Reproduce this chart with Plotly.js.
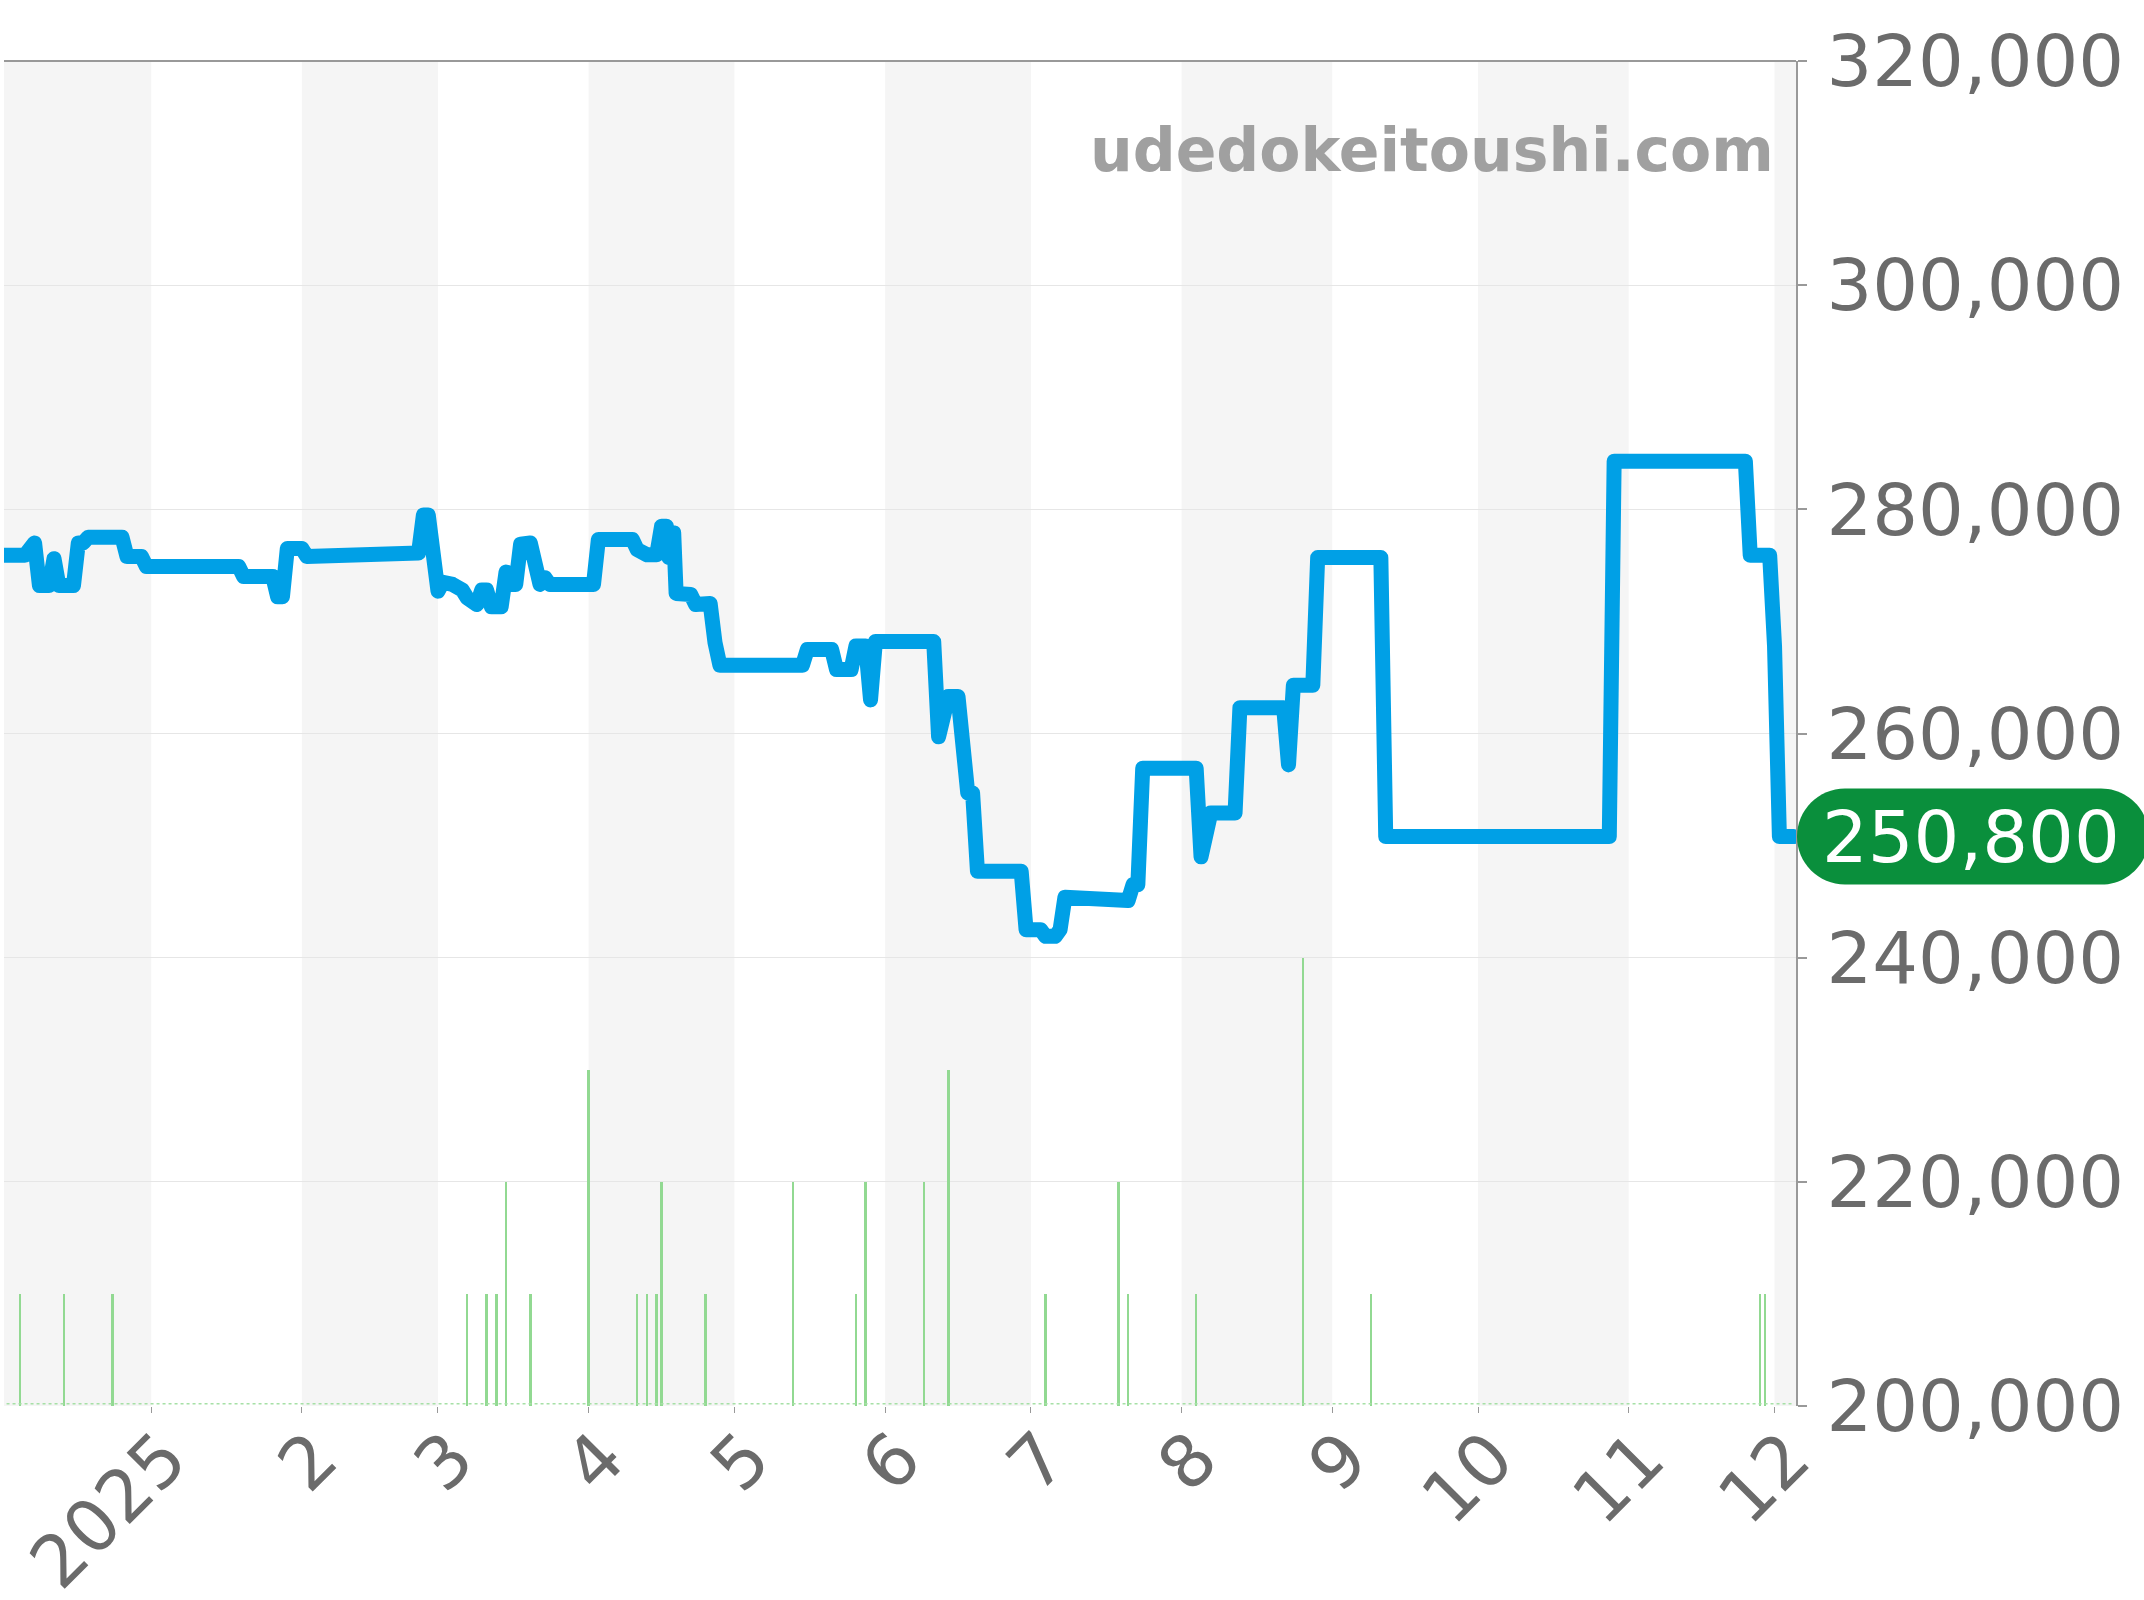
<!DOCTYPE html>
<html>
<head>
<meta charset="utf-8">
<script src="https://cdn.plot.ly/plotly-3.0.1.min.js"></script>
<style>
html,body{margin:0;padding:0;background:#fff;}
#chart{width:2144px;height:1600px;}
.scatterlayer .js-line{stroke-linejoin:round;stroke-linecap:round;}
</style>
</head>
<body>
<div id="chart"></div>
<script>
// ---- data ----
const priceDates = [
  '2024-12-01','2024-12-06','2024-12-08','2024-12-09','2024-12-11','2024-12-12','2024-12-13',
  '2024-12-16','2024-12-17','2024-12-18','2024-12-19','2024-12-26','2024-12-27','2024-12-30',
  '2024-12-31','2025-01-19','2025-01-20','2025-01-26','2025-01-27','2025-01-28','2025-01-29',
  '2025-02-01','2025-02-02','2025-02-17','2025-02-18','2025-02-25','2025-02-26','2025-02-27',
  '2025-03-01','2025-03-02','2025-03-04','2025-03-06','2025-03-07','2025-03-09','2025-03-10',
  '2025-03-11','2025-03-12','2025-03-14','2025-03-15','2025-03-16','2025-03-17','2025-03-18',
  '2025-03-20','2025-03-22','2025-03-23','2025-03-24','2025-04-02','2025-04-03','2025-04-10',
  '2025-04-11','2025-04-13','2025-04-15','2025-04-16','2025-04-17','2025-04-17 12:00','2025-04-18 12:00',
  '2025-04-19','2025-04-22','2025-04-23','2025-04-26','2025-04-27','2025-04-28','2025-05-15',
  '2025-05-16','2025-05-21','2025-05-22','2025-05-25','2025-05-26','2025-05-28','2025-05-29',
  '2025-05-30','2025-06-11','2025-06-12','2025-06-14','2025-06-16','2025-06-17','2025-06-18',
  '2025-06-19','2025-06-20','2025-06-29','2025-06-30','2025-07-03','2025-07-04','2025-07-06',
  '2025-07-07','2025-07-08','2025-07-20','2025-07-21','2025-07-22','2025-07-23','2025-07-24',
  '2025-08-04','2025-08-05','2025-08-07','2025-08-12','2025-08-13','2025-08-22','2025-08-23',
  '2025-08-24','2025-08-28','2025-08-29','2025-09-11','2025-09-12','2025-10-28','2025-10-29',
  '2025-11-25','2025-11-26','2025-11-30','2025-12-01','2025-12-02','2025-12-05'
];
const priceValues = [
  275900,275900,277000,273200,273200,275600,273200,
  273200,277000,277000,277500,277500,275800,275800,
  274900,274900,274000,274000,272200,272200,276500,
  276500,275800,275800,276100,276100,279500,279500,
  272700,273500,273300,272800,272100,271500,272800,
  272800,271300,271300,274400,273300,273300,276900,
  277000,273300,273900,273300,273300,277300,277300,
  276400,275950,275950,278500,278500,275700,277900,
  272500,272400,271500,271600,268100,266100,266100,
  267500,267500,265700,265700,267800,267800,263000,
  268200,268200,259700,263300,263300,257700,254700,
  254700,247700,247700,242500,242500,241900,241900,
  242500,245400,245400,245100,246500,246500,256900,
  256900,249000,252900,252900,262300,262300,257200,
  264300,264300,275700,275700,250800,250800,284300,
  284300,275900,275900,267800,250800,250800
];

const volDates = [
  '2024-12-05','2024-12-14','2024-12-24','2025-03-07','2025-03-11','2025-03-13','2025-03-15',
  '2025-03-20','2025-04-01','2025-04-11','2025-04-13','2025-04-15','2025-04-16','2025-04-25',
  '2025-05-13','2025-05-26','2025-05-28','2025-06-09','2025-06-14','2025-07-04','2025-07-19',
  '2025-07-21','2025-08-04','2025-08-26','2025-09-09','2025-11-28','2025-11-29'
];
const volCounts = [
  1,1,1,1,1,1,2,
  1,3,1,1,1,2,1,
  2,1,2,2,3,1,2,
  1,1,4,1,1,1
];

const monthStarts = [
  '2024-12-01','2025-01-01','2025-02-01','2025-03-01','2025-04-01','2025-05-01','2025-06-01',
  '2025-07-01','2025-08-01','2025-09-01','2025-10-01','2025-11-01','2025-12-01','2026-01-01'
];
const tickDates = [
  '2025-01-01','2025-02-01','2025-03-01','2025-04-01','2025-05-01','2025-06-01',
  '2025-07-01','2025-08-01','2025-09-01','2025-10-01','2025-11-01','2025-12-01'
];
const tickLabels = ['2025','2','3','4','5','6','7','8','9','10','11','12'];
const yTicks = [200000,220000,240000,260000,280000,300000,320000];
const xRange = ['2024-12-01 17:00','2025-12-05 10:00'];
const yRange = [200000,320000];
const watermark = 'udedokeitoushi.com';

// ---- chart ----
const FONT = 'DejaVu Sans, Verdana, sans-serif';
const LABEL = '#6b6b6b';
const lastValue = priceValues[priceValues.length - 1];
const fmt = v => v.toLocaleString('en-US');

const traces = [
  {
    type: 'bar', x: volDates, y: volCounts, yaxis: 'y2',
    width: 0.5 * 86400000,
    marker: {color: '#92d992', line: {width: 0}},
    hoverinfo: 'skip'
  },
  {
    type: 'scatter', mode: 'lines', x: priceDates, y: priceValues,
    line: {color: '#00a0e6', width: 15, shape: 'linear'},
    hoverinfo: 'skip'
  }
];

const shapes = [];
for (let i = 0; i < monthStarts.length - 1; i++) {
  if (i % 2 === 0) {
    shapes.push({
      type: 'rect', xref: 'x', yref: 'paper', layer: 'below',
      x0: monthStarts[i], x1: monthStarts[i + 1], y0: 0, y1: 1,
      fillcolor: '#f5f5f5', line: {width: 0}
    });
  }
}
// top border
shapes.push({type: 'line', xref: 'paper', yref: 'paper', x0: 0, x1: 1, y0: 1, y1: 1,
  line: {color: '#999', width: 2}});
// dotted baseline of the count series
shapes.push({type: 'line', xref: 'x', yref: 'y2', x0: priceDates[0], x1: priceDates[priceDates.length - 1],
  y0: 0.02, y1: 0.02, line: {color: '#a6e0a6', width: 1.5, dash: 'dot'}});
// current price pill
const pyPaper = (lastValue - yRange[0]) / (yRange[1] - yRange[0]);
shapes.push({
  type: 'path', xref: 'paper', yref: 'paper', xsizemode: 'pixel', ysizemode: 'pixel',
  xanchor: 1, yanchor: pyPaper, layer: 'above',
  path: 'M 49,-48 H 305 C 331.5,-48 353,-26.5 353,0 C 353,26.5 331.5,48 305,48 H 49 C 22.5,48 1,26.5 1,0 C 1,-26.5 22.5,-48 49,-48 Z',
  fillcolor: '#0a8f3c', line: {width: 0}
});

const layout = {
  width: 2144, height: 1600,
  margin: {l: 4, r: 348, t: 61, b: 194, pad: 0},
  paper_bgcolor: '#ffffff', plot_bgcolor: '#ffffff',
  showlegend: false,
  bargap: 0,
  font: {family: FONT, color: LABEL},
  xaxis: {
    type: 'date', range: xRange, tickmode: 'array', tickvals: tickDates, ticktext: tickLabels,
    tickangle: -45, ticks: 'outside', ticklen: 6, tickcolor: '#999', tickwidth: 1,
    ticklabelstandoff: -26, ticklabelshift: 14,
    tickfont: {family: FONT, size: 72, color: LABEL},
    showgrid: false, zeroline: false, showline: false, fixedrange: true
  },
  yaxis: {
    range: yRange, side: 'right', tickmode: 'array', tickvals: yTicks, ticktext: yTicks.map(fmt),
    ticks: 'outside', ticklen: 9, tickcolor: '#999', tickwidth: 2,
    ticklabelstandoff: 5,
    tickfont: {family: FONT, size: 72, color: LABEL},
    showgrid: true, gridcolor: '#e6e6e6', gridwidth: 1,
    showline: true, linecolor: '#999', linewidth: 2, zeroline: false, fixedrange: true
  },
  yaxis2: {overlaying: 'y', range: [0, 12], visible: false, fixedrange: true},
  shapes: shapes,
  annotations: [
    {
      xref: 'paper', yref: 'paper', x: 0.9888, y: 0.934, xanchor: 'right', yanchor: 'middle',
      text: '<b>' + watermark + '</b>', showarrow: false,
      font: {family: FONT, size: 60, color: '#a0a0a0'}
    },
    {
      xref: 'paper', yref: 'y', x: 1, y: lastValue, xanchor: 'left', yanchor: 'middle',
      xshift: 24, text: fmt(lastValue), showarrow: false,
      font: {family: FONT, size: 72, color: '#ffffff'}
    }
  ]
};

Plotly.newPlot('chart', traces, layout, {staticPlot: true, displayModeBar: false});
</script>
</body>
</html>
